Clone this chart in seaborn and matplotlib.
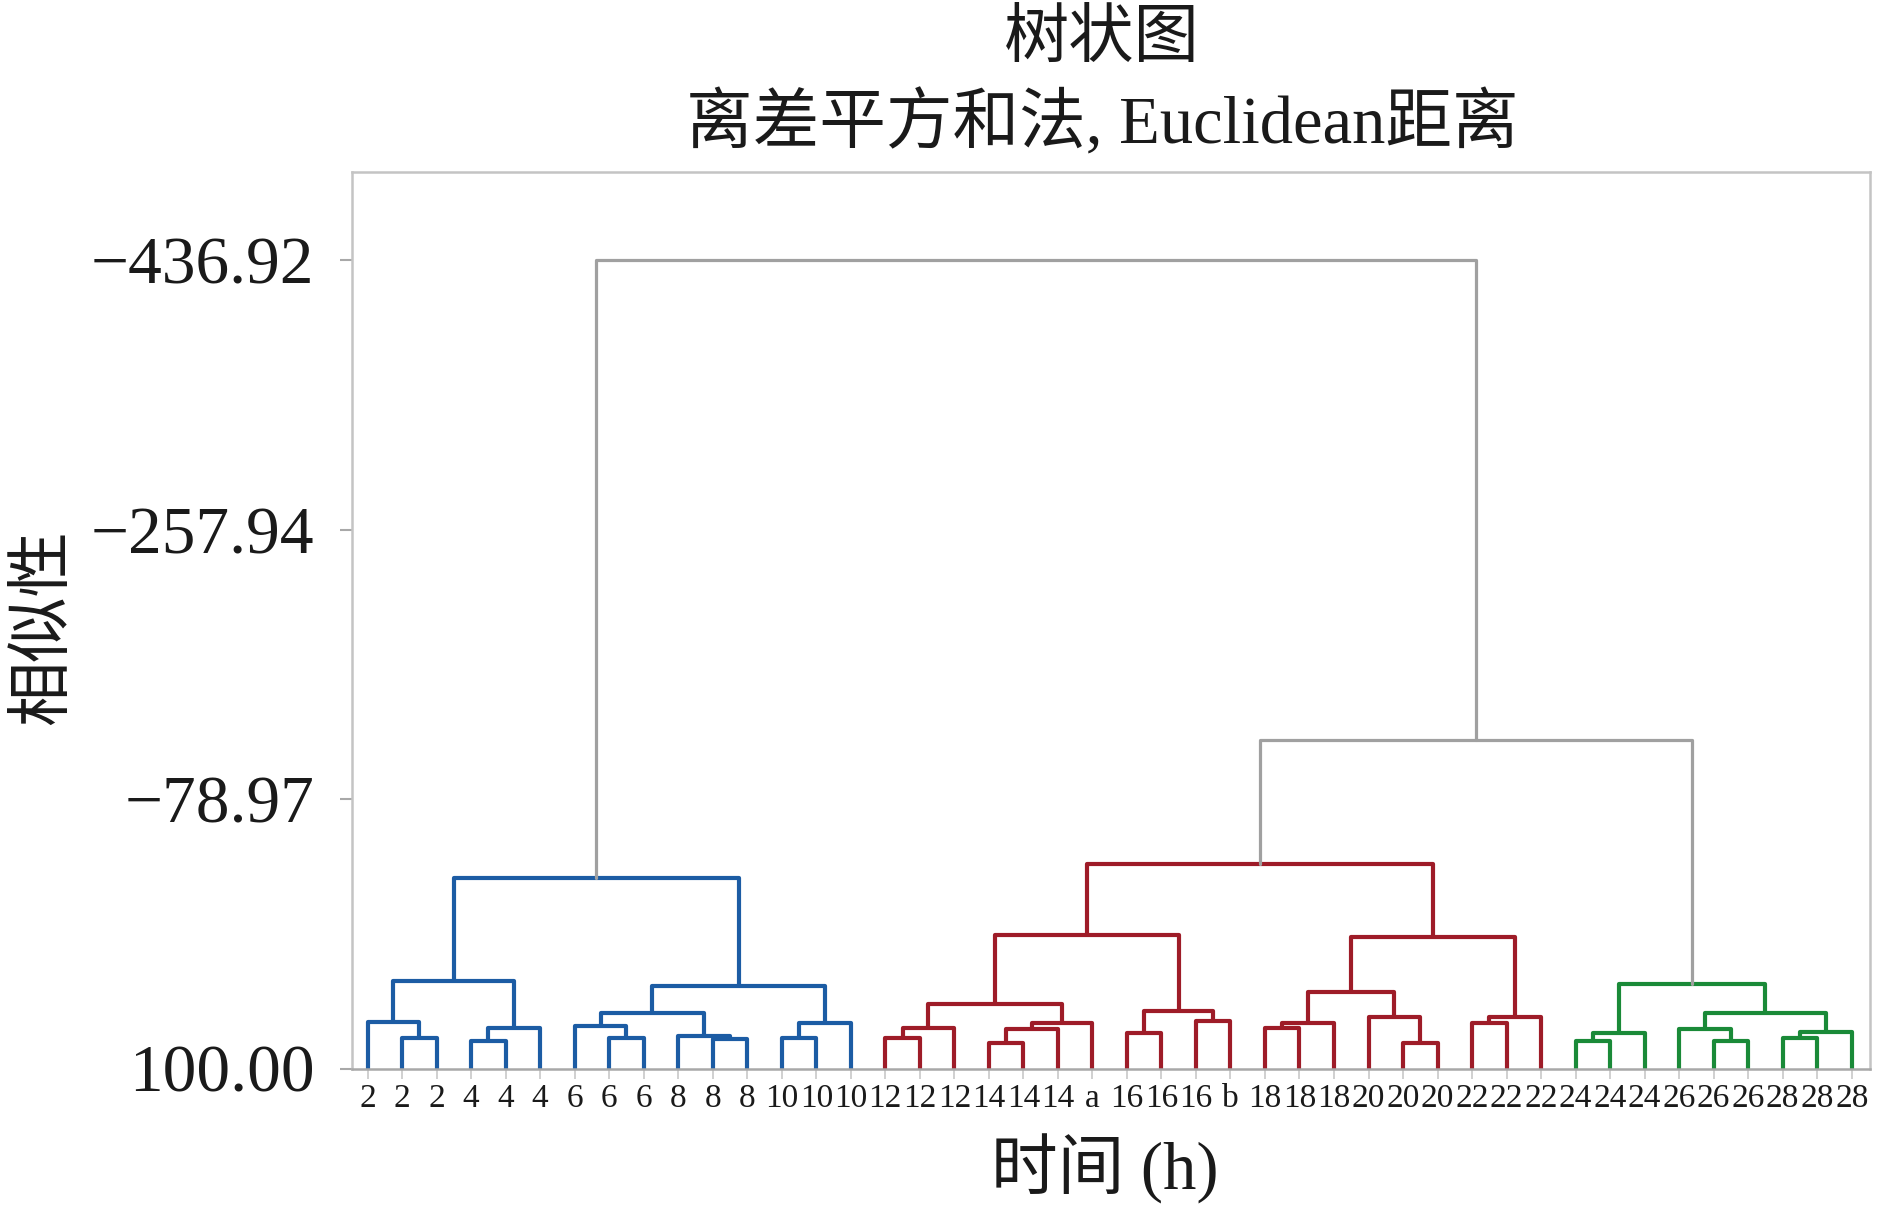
import matplotlib
matplotlib.use("Agg")
import matplotlib.pyplot as plt
import seaborn as sns
import pandas as pd

# ---------------- data ----------------
leaf_labels = ["2", "2", "2", "4", "4", "4", "6", "6", "6", "8", "8", "8",
               "10", "10", "10", "12", "12", "12", "14", "14", "14", "a",
               "16", "16", "16", "b", "18", "18", "18", "20", "20", "20",
               "22", "22", "22", "24", "24", "24", "26", "26", "26",
               "28", "28", "28"]

# merges (scipy-like): node ids < 44 are leaves, merge k creates node 44+k
merge_left = [1, 0, 3, 46, 45, 7, 6, 10, 9, 50, 12, 54, 53, 48,
              15, 58, 18, 60, 61, 59, 22, 24, 64, 63, 26, 68, 30, 29, 69, 32, 73, 72, 67,
              35, 77, 39, 38, 41, 81, 80, 78,
              76, 57]
merge_right = [2, 44, 4, 5, 47, 8, 49, 11, 51, 52, 13, 14, 55, 56,
               16, 17, 19, 20, 21, 62, 23, 25, 65, 66, 27, 28, 31, 70, 71, 33, 34, 74, 75,
               36, 37, 40, 79, 42, 43, 82, 83,
               84, 85]
merge_height = [79.9, 69.3, 81.5, 73.3, 41.7, 79.9, 71.6, 80.2, 78.2, 62.9, 79.9, 69.6, 45.2, -26.3,
                79.9, 73.3, 83.3, 74.0, 69.6, 57.2, 76.2, 68.3, 61.8, 11.3, 73.3, 69.6, 83.3, 65.6,
                49.4, 70.0, 65.6, 12.7, -35.6,
                81.5, 76.2, 81.5, 73.8, 79.9, 75.6, 62.9, 43.9,
                -118.2, -436.92]
merge_group = ["blue"] * 14 + ["red"] * 19 + ["green"] * 8 + ["grey"] * 2

ytick_values = [100.00, -78.97, -257.94, -436.92]
ytick_labels = ["100.00", "\u221278.97", "\u2212257.94", "\u2212436.92"]
leaf_height = 100.0

palette = {"blue": "#1c5ca4", "red": "#9e1c28", "green": "#1a8a38", "grey": "#a0a0a0"}

# ---------------- build segments ----------------
n = len(leaf_labels)
pos = {i: float(i) for i in range(n)}
hgt = {i: leaf_height for i in range(n)}
rows = []
for k, (a, b, h, g) in enumerate(zip(merge_left, merge_right, merge_height, merge_group)):
    xa, xb = pos[a], pos[b]
    pts = [(xa, hgt[a]), (xa, h), (xb, h), (xb, hgt[b])]
    for j, (px, py) in enumerate(pts):
        rows.append({"seg": k, "order": j, "x": px, "y": py, "group": g})
    pos[n + k] = (xa + xb) / 2.0
    hgt[n + k] = h
df = pd.DataFrame(rows)

# ---------------- plot ----------------
sns.set_theme(style="white")
serif_cjk = ["Liberation Serif", "Noto Sans CJK SC"]
plt.rcParams["font.family"] = serif_cjk
plt.rcParams["axes.unicode_minus"] = True
text_color = "#1a1a1a"

W, H = 1890, 1208
fig = plt.figure(figsize=(W / 100, H / 100), dpi=100)
ax = fig.add_axes([352 / W, 1 - 1068.5 / H, (1870 - 352) / W, (1068.5 - 172) / H])

col = df[df["group"] != "grey"]
gry = df[df["group"] == "grey"]
sns.lineplot(data=col, x="x", y="y", hue="group", units="seg", estimator=None,
             sort=False, palette=palette, legend=False, linewidth=3.0, ax=ax)
sns.lineplot(data=gry, x="x", y="y", hue="group", units="seg", estimator=None,
             sort=False, palette=palette, legend=False, linewidth=2.3, ax=ax)

ax.set_xlim(-0.452, 43.53)
ax.set_ylim(100, -495.4)
ax.set_xticks(range(n))
ax.set_xticklabels(leaf_labels, fontsize=24, color=text_color)
ax.set_yticks(ytick_values)
ax.set_yticklabels(ytick_labels, fontsize=48.5, color=text_color)
ax.tick_params(axis="y", which="major", left=True, length=9, width=1.5,
               color="#a8a8a8", pad=18, direction="out")
ax.tick_params(axis="x", which="major", bottom=True, length=7, width=1.2,
               color="#c8c8c8", pad=4, direction="out")
ax.set_xlabel("")
ax.set_ylabel("")
for s in ax.spines.values():
    s.set_color("#c4c4c4")
    s.set_linewidth(1.8)
ax.spines["bottom"].set_color("#a8a8a8")

cx = 1102 / W
fig.text(cx, 1 - 41 / H, "树状图", ha="center", va="center", fontsize=47,
         color=text_color, family=serif_cjk)
fig.text(cx, 1 - 124 / H, "离差平方和法, Euclidean距离", ha="center", va="center",
         fontsize=48, color=text_color, family=serif_cjk)
fig.text(45 / W, 1 - 627 / H, "相似性", rotation=90, ha="center", va="center",
         fontsize=47, color=text_color, family=serif_cjk)
fig.text(1105 / W, 1 - 1169 / H, "时间 (h)", ha="center", va="center",
         fontsize=48, color=text_color, family=serif_cjk)

fig.savefig("out.png", dpi=100)
